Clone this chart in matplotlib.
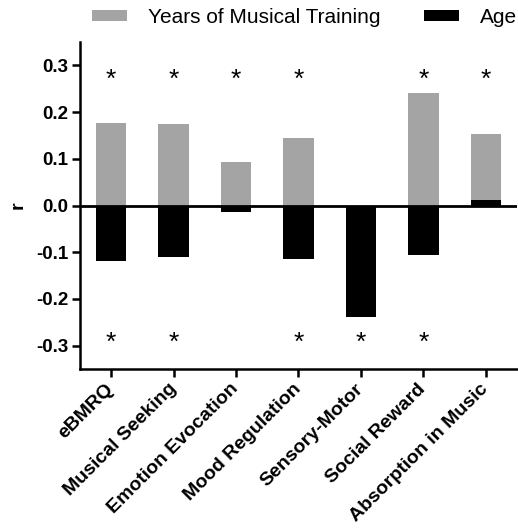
import matplotlib
matplotlib.use('Agg')
import matplotlib.pyplot as plt
import matplotlib.transforms as mtransforms
import numpy as np

plt.rcParams['font.family'] = ['Liberation Sans', 'DejaVu Sans']

categories = ['eBMRQ', 'Musical Seeking', 'Emotion Evocation', 'Mood Regulation',
              'Sensory-Motor', 'Social Reward', 'Absorption in Music']
training_r = [0.177, 0.175, 0.093, 0.144, 0.0, 0.241, 0.154]
age_r = [-0.118, -0.111, -0.013, -0.115, -0.239, -0.106, 0.012]
training_sig = [True, True, True, True, False, True, True]
age_sig = [True, True, False, True, True, True, False]
yticks = [-0.3, -0.2, -0.1, 0.0, 0.1, 0.2, 0.3]

gray = '#a4a4a4'

fig = plt.figure(figsize=(5.18, 5.29), dpi=100)
ax = fig.add_axes([0.1544, 0.3025, 0.8437, 0.618])

x = np.arange(len(categories))
ax.bar(x, training_r, width=0.49, color=gray, label='Years of Musical Training', zorder=2)
ax.bar(x, age_r, width=0.49, color='black', label='Age', zorder=3)
ax.axhline(0, color='black', lw=2.0, zorder=4)

# significance stars
for i in range(len(categories)):
    if training_sig[i]:
        ax.text(x[i], 0.270, '*', ha='center', va='center', fontsize=19)
    if age_sig[i]:
        ax.text(x[i], -0.295, '*', ha='center', va='center', fontsize=19)

ax.set_xlim(-0.5, 6.5)
ax.set_ylim(-0.35, 0.35)
ax.set_yticks(yticks)
ax.set_yticklabels(['%.1f' % v for v in yticks], fontsize=13.5, fontweight='bold')
ax.set_xticks(x)
ax.set_xticklabels(categories, rotation=45, ha='right', va='center',
                   rotation_mode='anchor', fontsize=14, fontweight='bold')
# nudge the rotated labels a little to the right, like the original
shift = mtransforms.ScaledTranslation(4 / 100, 0, fig.dpi_scale_trans)
for lab in ax.get_xticklabels():
    lab.set_transform(lab.get_transform() + shift)
ax.set_ylabel('r', fontsize=14, fontweight='bold', labelpad=7)

for s in ['top', 'right']:
    ax.spines[s].set_visible(False)
for s in ['left', 'bottom']:
    ax.spines[s].set_linewidth(1.8)
ax.tick_params(axis='both', width=1.8, length=5.5, pad=3)
ax.tick_params(axis='x', pad=7)

fig.legend(loc='upper left', bbox_to_anchor=(92 / 518, 0.985), ncol=2, frameon=False,
           fontsize=15, handlelength=1.68, handleheight=0.48, handletextpad=1.0,
           columnspacing=2.1, borderpad=0, borderaxespad=0)

fig.savefig('out.png', dpi=100)
